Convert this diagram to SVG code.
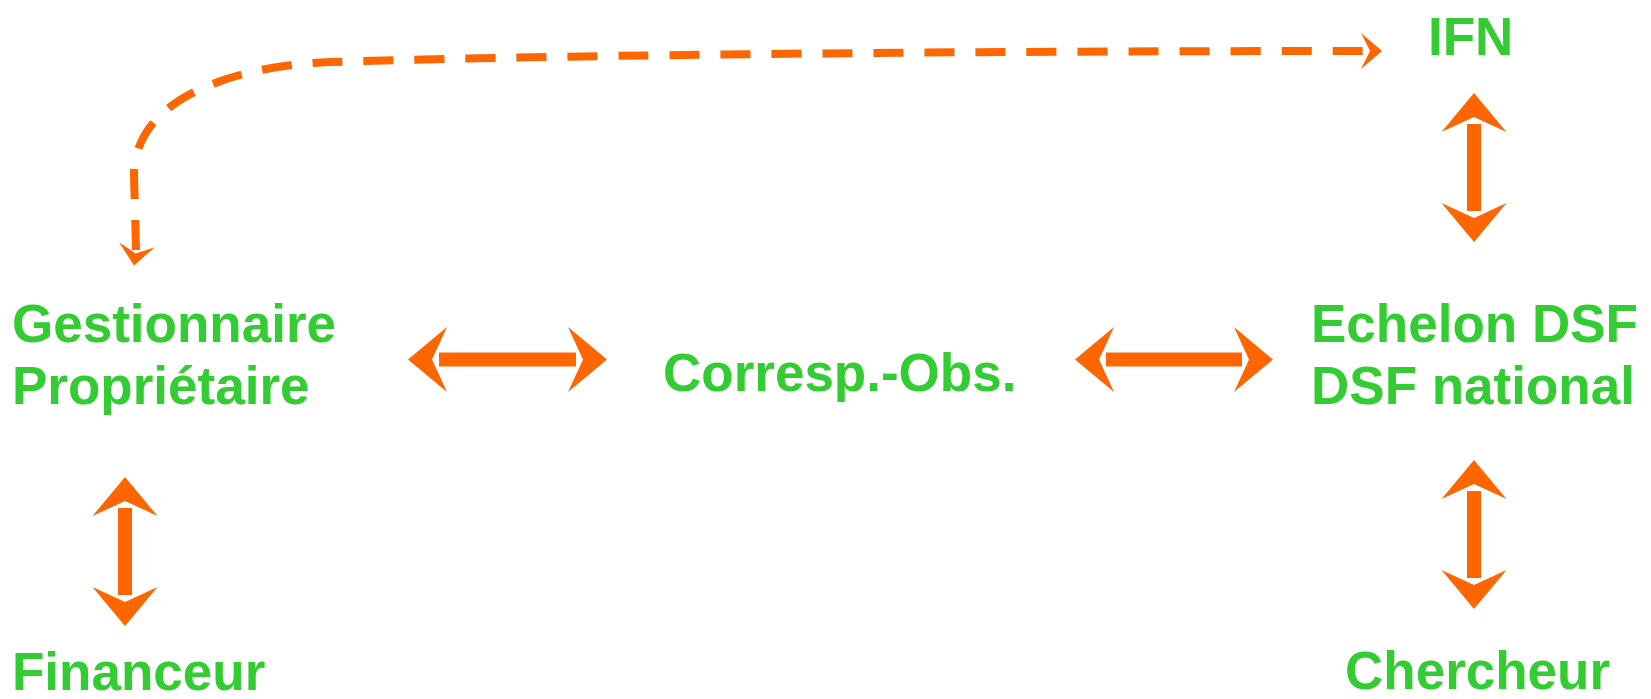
<svg xmlns="http://www.w3.org/2000/svg" xmlns:xlink="http://www.w3.org/1999/xlink" width="1651" height="699" viewBox="0 0 1651 699">
<style>
  .lbl { font-family: "Liberation Sans", Arial, sans-serif; font-weight: bold; font-size: 53px; fill: #33CC33; }
  .head { fill: #FF6600; }
  .shaft { fill: #FF6600; }
  .dash { fill: none; stroke: #FF6600; stroke-width: 8; stroke-dasharray: 30 21; }
</style>
<defs>
  <path id="ah" d="M0 0 L32.5 39 L0 24 L-32.5 39 Z"/>
  <path id="ahs" d="M0 0 L18 21 L0 12 L-18 21 Z"/>
</defs>
<rect width="1651" height="699" fill="#FFFFFF"/>

<g id="connectors">
  <!-- Gestionnaire <-> Financeur -->
  <g id="c-gest-fin">
    <use xlink:href="#ah" class="head" transform="translate(125 477)"/>
    <rect class="shaft" x="118" y="508" width="14" height="87"/>
    <use xlink:href="#ah" class="head" transform="translate(125 626) rotate(180)"/>
  </g>
  <!-- IFN <-> Echelon -->
  <g id="c-ifn-ech">
    <use xlink:href="#ah" class="head" transform="translate(1474 93)"/>
    <rect class="shaft" x="1467" y="124" width="14" height="87"/>
    <use xlink:href="#ah" class="head" transform="translate(1474 242) rotate(180)"/>
  </g>
  <!-- Echelon <-> Chercheur -->
  <g id="c-ech-cher">
    <use xlink:href="#ah" class="head" transform="translate(1474 460)"/>
    <rect class="shaft" x="1467" y="491" width="14" height="87"/>
    <use xlink:href="#ah" class="head" transform="translate(1474 609) rotate(180)"/>
  </g>
  <!-- Gestionnaire <-> Corresp -->
  <g id="c-gest-corr">
    <use xlink:href="#ah" class="head" transform="translate(408 359.5) rotate(-90)"/>
    <rect class="shaft" x="439" y="352.5" width="137" height="14"/>
    <use xlink:href="#ah" class="head" transform="translate(607 359.5) rotate(90)"/>
  </g>
  <!-- Corresp <-> Echelon -->
  <g id="c-corr-ech">
    <use xlink:href="#ah" class="head" transform="translate(1075 359.5) rotate(-90)"/>
    <rect class="shaft" x="1106" y="352.5" width="136" height="14"/>
    <use xlink:href="#ah" class="head" transform="translate(1273 359.5) rotate(90)"/>
  </g>
  <!-- Gestionnaire <-> IFN dashed -->
  <g id="c-gest-ifn">
    <path class="dash" d="M136 250 L134 175 C134 100, 230 66, 330 62 C600 54, 1000 51, 1370 51"/>
    <use xlink:href="#ahs" class="head" transform="translate(1382 51) rotate(90)"/>
    <use xlink:href="#ahs" class="head" transform="translate(134 265.5) rotate(188)"/>
  </g>
</g>

<g id="node-ifn"><text class="lbl" x="1428" y="55">IFN</text></g>
<g id="node-gestionnaire">
  <text class="lbl" x="12" y="342">Gestionnaire</text>
  <text class="lbl" x="12" y="404">Propriétaire</text>
</g>
<g id="node-corresp"><text class="lbl" x="663" y="391">Corresp.-Obs.</text></g>
<g id="node-echelon">
  <text class="lbl" x="1311" y="342">Echelon DSF</text>
  <text class="lbl" x="1311" y="404">DSF national</text>
</g>
<g id="node-financeur"><text class="lbl" x="12" y="690">Financeur</text></g>
<g id="node-chercheur"><text class="lbl" x="1345" y="689">Chercheur</text></g>
</svg>
